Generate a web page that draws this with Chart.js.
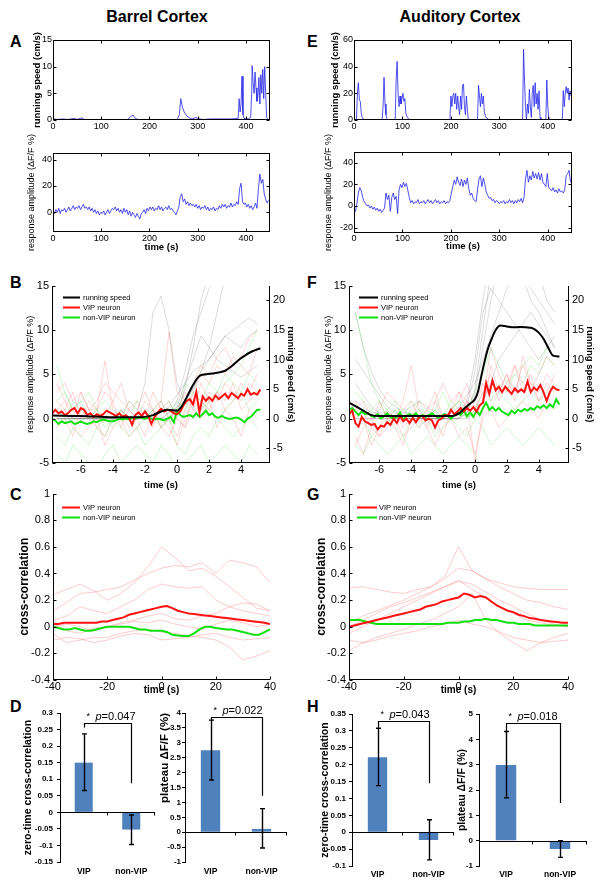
<!DOCTYPE html>
<html><head><meta charset="utf-8">
<script src="https://cdn.jsdelivr.net/npm/chart.js@4.4.1/dist/chart.umd.min.js"></script>
<style>
html,body{margin:0;padding:0;background:#fff;}
body{width:603px;height:889px;position:relative;overflow:hidden;font-family:"Liberation Sans",Arial,sans-serif;}
canvas{position:absolute;}
.lbl{position:absolute;font-weight:bold;font-size:16px;line-height:16px;color:#000;white-space:nowrap;}
</style></head><body>
<div class="lbl" style="left:57px;top:9px;width:200px;text-align:center">Barrel Cortex</div>
<div class="lbl" style="left:360px;top:9px;width:200px;text-align:center">Auditory Cortex</div>
<div class="lbl" style="left:10px;top:34px">A</div>
<div class="lbl" style="left:307px;top:34px">E</div>
<div class="lbl" style="left:10px;top:275px">B</div>
<div class="lbl" style="left:307px;top:275px">F</div>
<div class="lbl" style="left:10px;top:487px">C</div>
<div class="lbl" style="left:307px;top:487px">G</div>
<div class="lbl" style="left:10px;top:699px">D</div>
<div class="lbl" style="left:307px;top:699px">H</div>
<script>
// ================= DATA =================
// Panel A / E : running speed (cm/s) vs time (s)
const aBarrelSpeedT = [0,10,20,30,45,50,60,65,80,100,120,140,155,162,166,170,175,200,240,258,262,265,268,272,278,285,290,295,300,310,330,350,370,384,386,388,390,392,394,396,405,410,412,413,415,417,419,421,423,425,427,429,431,433,435,437,439,441,443,446,450];
const aBarrelSpeedV = [0.2,0.1,0.2,0.1,0.3,0.1,0.4,0.1,0.1,0.1,0.1,0.1,0.1,0.7,0.9,0.4,0.1,0.1,0.1,0.1,1,4,2.5,1.5,0.7,0.3,0.2,0.5,0.3,0.1,0.2,0.2,0.2,0.3,4.0,1.5,3,8.2,1,0.3,0.2,0.5,5,10.2,7,5,9,6,3.5,4.5,8,3,8.5,5,9.5,4,10,5,0.5,0.1,0.1];
const aAudSpeedT = [0,5,7,9,11,13,15,17,20,25,58,60,62,64,66,68,70,85,87,89,91,93,95,97,99,101,103,105,107,110,115,198,200,202,204,206,208,210,212,214,216,218,220,222,224,226,228,230,232,234,236,255,257,259,261,263,265,267,269,272,280,348,350,352,354,356,358,360,362,364,366,368,370,372,374,376,378,380,382,384,386,396,398,400,402,405,430,432,434,436,438,440,442,444,446,448];
const aAudSpeedV = [0,0,20,28,15,14,5,2,0.5,0,0,10,32,12,4,1,0,0,30,44,20,10,18,12,16,20,14,16,5,2,0,0,18,10,18,20,12,20,8,18,10,4,18,8,26,27,10,4,18,8,0,0,26,18,10,20,12,18,6,2,0,0,53,30,10,0,12,5,23,10,2,20,26,10,28,12,20,8,22,2,0,0,30,10,2,0,0,22,10,20,25,20,24,15,22,18];
// response amplitude (dF/F %), sampled every aDffStep s from t=0
const aDffStep = 3;
const aBarrelDff = [1,-1,2,0,3,-1,2,1,3,0,2,4,1,3,5,2,4,3,5,2,4,6,3,4,2,4,1,3,0,2,-1,1,-2,0,-1,1,-2,0,2,-1,1,3,2,4,1,3,0,2,-1,3,0,2,-2,1,-3,0,-2,-4,-1,-3,-5,-1,0,2,-1,3,1,4,2,4,1,3,2,5,2,4,1,3,4,2,5,2,3,1,0,-2,1,4,12,14,8,10,6,8,5,7,5,6,4,6,3,5,2,4,3,5,2,4,1,3,2,4,1,3,2,5,3,6,4,6,3,5,4,7,4,6,5,8,6,18,22,8,6,7,4,6,3,5,2,4,7,3,18,29,22,25,14,10,7,9];
const aAudDff = [-2,-5,2,12,17,14,8,4,2,0,1,-2,0,-3,-1,-4,-2,-5,-3,-6,-4,-2,12,6,10,-5,8,12,6,9,-7,15,20,17,22,18,21,15,8,3,5,2,4,3,6,2,4,3,5,2,4,6,3,5,2,4,6,3,5,2,4,3,5,2,4,3,5,12,18,24,20,27,22,19,25,18,24,20,26,16,10,12,7,5,4,15,25,28,18,26,20,13,10,7,8,5,6,3,5,4,2,4,3,5,2,4,3,6,3,5,2,5,3,6,4,7,3,8,25,33,22,28,24,32,26,30,25,31,24,30,22,20,18,30,17,16,14,17,13,15,12,16,13,14,12,15,28,30,33,22];
const aTimeTicks = [0,100,200,300,400];
const aBarrelSpeedTicks = [0,5,10,15];
const aBarrelDffTicks = [0,20,40];
const aAudSpeedTicks = [0,20,40,60];
const aAudDffTicks = [-20,0,20,40];

// Panel B / F : event-triggered averages
const bTimeTicks = [-6,-4,-2,0,2,4];
const bDffTicks = [-5,0,5,10,15];
const bSpeedTicks = [-5,0,5,10,15,20];
const bLegendLabels = ['running speed','VIP neuron','non-VIP neuron'];
// mean running speed (cm/s, right axis)
const bBarrelSpeedT = [-7.8,-6,-4,-2.5,-2,-1.5,-1,-0.6,0,0.3,0.6,1.0,1.4,1.8,2.2,2.6,3.0,3.4,3.9,4.3,4.7,5.2];
const bBarrelSpeedV = [0.53,0.45,0.23,0.23,0.3,0.6,1.2,1.5,1.35,2.1,3.6,5.7,7.2,7.5,7.65,7.8,8.1,8.85,10.05,10.8,11.4,11.9];
const bAudSpeedT = [-7.9,-7.5,-7,-6.5,-6,-5,-4,-3,-2,-1.4,-1,-0.7,-0.3,0,0.2,0.4,0.6,0.8,1.05,1.3,1.6,2.0,2.4,2.8,3.2,3.6,4.0,4.3,4.6,4.9,5.3];
const bAudSpeedV = [2.7,2.1,1.35,0.6,0.45,0.45,0.45,0.45,0.45,0.45,0.9,1.65,2.55,3.3,4.65,7.2,9.6,11.7,13.5,15.0,15.75,15.6,15.45,15.5,15.45,15.3,14.55,13.5,12.0,10.65,10.5];
// mean dF/F, sampled every 0.2 s
const bBarrelMeanT0 = -7.8, bAudMeanT0 = -7.9, bMeanStep = 0.2;
const bBarrelVip = [0.5,1.0,0.6,0.8,0.4,0.6,1.0,1.2,0.6,1.2,1.0,0.4,0.6,0.2,0.5,0.3,0.5,0.9,0.7,0.5,0.3,0.6,0.2,0.4,0.1,-0.7,0.4,0.7,0.3,0.8,0.3,-0.6,0.2,0.7,1.1,0.8,1.0,0.9,0.6,0.5,0.8,1.5,2.0,2.2,1.6,3.0,0.7,2.5,2.0,2.4,2.0,2.6,2.2,2.5,2.8,2.3,2.9,2.6,2.3,2.8,2.6,3.3,2.7,2.9,2.7,3.3];
const bBarrelNon = [0.0,-0.2,-0.6,-0.3,-0.5,-0.4,-0.3,-0.6,-0.5,-0.3,-0.5,-0.6,-0.5,-0.3,-0.4,-0.2,-0.1,-0.2,-0.3,-0.3,-0.2,0.0,-0.1,0.0,-0.1,0.1,0.0,0.2,0.1,0.0,0.1,0.0,-0.1,0.0,-0.1,-0.2,0.0,0.2,-0.4,0.9,0.4,0.2,0.3,0.4,0.2,0.6,0.2,0.5,0.9,0.4,0.6,0.2,0.1,0.3,0.1,0.0,0.0,0.1,0.1,-0.1,-0.4,0.0,0.2,0.6,1.0,1.0];
const bAudVip = [0.5,0.9,-0.5,-0.9,0.2,-0.3,-0.5,-0.7,-0.6,-1.2,-0.8,-0.9,-0.4,-0.7,0.0,-0.5,0.3,-0.3,0.0,-0.5,0.1,-0.4,0.2,0.3,-0.2,0.0,-0.2,-1.0,-0.2,0.0,0.4,0.3,1.0,0.5,0.8,1.2,0.8,1.2,0.9,1.3,0.8,1.5,1.8,4.0,2.8,4.3,3.2,3.6,3.0,3.6,3.2,2.8,3.4,3.0,3.3,3.0,4.2,3.0,3.5,3.2,3.8,3.0,2.0,3.0,3.6,3.3,3.2];
const bAudNon = [1.0,1.2,0.8,0.4,0.8,0.5,0.6,0.3,0.2,0.5,0.0,0.3,0.6,0.2,0.0,0.2,0.7,-0.2,0.3,0.5,0.3,0.6,0.1,0.4,0.2,0.4,0.6,0.3,0.1,0.3,0.5,0.3,0.0,0.4,0.7,0.4,0.9,0.3,0.7,0.2,0.9,0.4,1.2,1.8,1.0,1.3,0.9,1.2,0.8,0.6,0.4,0.9,0.6,1.0,0.8,1.1,0.9,1.2,1.0,1.4,1.2,1.5,1.2,1.6,1.3,2.2,1.6];
// individual traces, sampled at bTraceT
const bTraceT = [-7.5,-7,-6.5,-6,-5.5,-5,-4.5,-4,-3.5,-3,-2.5,-2,-1.5,-1,-0.5,0,0.5,1,1.5,2,2.5,3,3.5,4,4.5,5];
const bBarrelGray = [
 [0,0,0,0,0,0,0,0,0,0,1,6,18,20.7,15,6,3,5,8,10,12,14,13,12,14,15],
 [0,0,0,0,0,0,0,0,0,0,0,0,0,0,0,1,5,12,20,25,28,30,30,30,30,30],
 [0,0,0,0,0,0,0,0,0,0,0,0,0,0,1,3,8,14,18,22,25,26,28,30,32,33],
 [1,1,0,0,0,0,0,0,0,0,0,0,0,1,2,4,6,8,9,10,12,14,15,16,17,16],
 [0,0,0,0,0,0,0,0,0,0,0,0,0,0,0,2,6,10,14,12,10,9,8,7,8,9],
 [0,0,0,0,0,0,0,0,0,0,0,0,0,0,1,2,3,5,8,12,18,24,28,30,30,30]];
const bBarrelRed = [
 [1,2,0,3,1,1,6.5,1,0,2,1,3,1,2,9.8,3,2,4,6,5,7,8,6,7,9,10],
 [4,2,1,0,2,1,3,2,4,1,2,0,3,1,2,0,-1,3,5,4,6,5,7,6,5,8],
 [-1,0,-2,1,0,-1,-2,0,1,-1,0,-2,1,0,-1,-3,0,2,1,3,2,4,3,2,4,3],
 [2,1,3,0,1,-1,0,2,-1,1,0,1,-1,2,0,1,3,1,4,2,3,1,2,4,3,5],
 [0,1,-1,-2,-1,0,-3,-1,0,-2,-1,0,1,-1,-2,0,-1,1,0,2,-1,1,0,-2,1,0],
 [3,4,2,3,1,2,4,3,2,1,0,2,1,-1,0,-2,1,0,2,1,3,2,4,1,2,3]];
const bBarrelGreen = [
 [6,3,1,2,0,1,0,-1,1,0,-1,0,1,-1,0,2,1,3,2,4,3,5,4,3,5,4],
 [-2,-3,-1,-2,-3,-1,-2,0,-1,-2,-1,-3,-2,-1,0,-3,-4,-2,-1,-2,0,-1,-2,-1,0,-1],
 [1,0,2,1,0,1,-1,0,1,0,2,1,0,1,2,0,4,3,2,1,0,1,2,3,1,2],
 [-4,-5,-3,-4,-5,-6,-4,-3,-5,-4,-3,-4,-5,-3,-4,-6,-5,-4,-3,-5,-4,-3,-4,-5,-3,-4],
 [2,3,1,2,3,1,2,1,0,2,1,0,1,2,0,1,2,0,1,2,3,4,5,6,8,10]];
const bAudGray = [
 [18,12,8,5,3,2,1,1,0,0,0,0,0,0,1,5,15,25,30,28,26,24,22,20,18,16],
 [6,4,2,1,1,0,0,0,0,0,0,0,0,1,3,10,20,28,32,30,28,30,32,30,28,26],
 [0,0,0,0,0,0,0,0,0,0,0,0,0,0,2,8,18,22,20,18,16,14,12,10,12,14],
 [10,8,6,4,2,1,0,0,0,0,0,0,1,2,4,6,10,14,18,22,25,24,20,18,15,12],
 [0,0,0,0,0,0,0,0,0,0,0,0,0,0,0,1,3,6,10,12,14,16,18,16,14,12],
 [3,2,1,1,0,0,1,2,3,2,1,0,0,0,1,4,12,20,26,30,32,34,30,25,20,18]];
const bAudRed = [
 [2,0,-3,-1,1,0,2,6,1,-1,2,0,1,3,2,-5,1,6,3,5,2,7,4,3,5,4],
 [0,1,-1,2,0,1,-1,0,2,1,3,0,1,2,4,1,3,5,2,4,6,3,5,2,4,3],
 [-2,-4,-1,-2,0,-1,-3,0,-1,1,0,-2,1,0,2,1,4,2,3,5,3,6,4,2,3,5],
 [1,2,0,1,3,2,1,2,0,1,2,4,2,3,1,0,2,8,5,3,6,4,3,5,7,6],
 [-3,-1,0,-2,-1,0,-2,-1,0,-1,-3,-1,0,-2,-1,-4,0,1,-1,0,1,2,1,0,2,1]];
const bAudGreen = [
 [3,2,1,0,1,2,0,1,2,0,1,3,1,2,0,1,3,2,4,3,5,4,6,5,7,6],
 [-1,0,-2,-1,0,-1,-2,0,-1,0,-2,-1,0,-1,-2,0,-1,-3,-2,-1,-2,-3,-2,-1,-2,-3],
 [1,0,1,2,0,1,0,2,1,0,1,0,2,1,0,1,2,1,3,2,1,2,3,2,3,4],
 [-3,-4,-2,-3,-4,-3,-2,-4,-3,-2,-3,-4,-3,-2,-3,-4,-6,-5,-6,-5,-6,-5,-6,-5,-6,-5],
 [12,8,4,2,1,0,1,0,1,0,1,0,1,2,1,3,5,8,6,4,5,6,7,6,8,7]];

// Panel C / G : cross-correlation
const cLegendLabels = ['VIP neuron','non-VIP neuron'];
const cLagTicks = [-40,-20,0,20,40];
const cCorrTicks = [-0.4,-0.2,0,0.2,0.4,0.6,0.8,1];
const cMeanT0 = -40, cMeanStep = 2;
const cBarrelVip = [0.02,0.02,0.03,0.03,0.03,0.03,0.03,0.03,0.03,0.04,0.04,0.05,0.06,0.07,0.09,0.10,0.11,0.12,0.13,0.14,0.15,0.155,0.14,0.12,0.11,0.10,0.095,0.09,0.085,0.08,0.075,0.07,0.065,0.06,0.055,0.05,0.045,0.04,0.035,0.03,0.02];
const cBarrelNon = [0.0,-0.01,-0.02,-0.02,-0.01,-0.02,-0.03,-0.03,-0.02,-0.01,0.0,0.0,0.0,0.0,0.0,-0.01,-0.02,-0.02,-0.03,-0.03,-0.03,-0.04,-0.06,-0.065,-0.07,-0.07,-0.05,-0.02,0.0,0.0,-0.01,-0.015,-0.02,-0.02,-0.03,-0.04,-0.05,-0.06,-0.06,-0.04,-0.02];
const cAudVip = [0.0,0.01,0.02,0.03,0.04,0.05,0.06,0.07,0.08,0.09,0.10,0.11,0.12,0.13,0.15,0.16,0.17,0.19,0.20,0.21,0.22,0.25,0.24,0.22,0.23,0.22,0.19,0.16,0.14,0.12,0.11,0.09,0.08,0.065,0.06,0.05,0.045,0.04,0.035,0.03,0.03];
const cAudNon = [0.05,0.05,0.05,0.04,0.03,0.02,0.02,0.02,0.02,0.02,0.02,0.02,0.02,0.02,0.02,0.02,0.02,0.02,0.03,0.03,0.03,0.04,0.04,0.05,0.05,0.06,0.05,0.05,0.04,0.03,0.03,0.02,0.02,0.02,0.01,0.01,0.01,0.01,0.01,0.01,0.01];
const cTraceT = [-40,-35,-30,-25,-20,-15,-10,-5,0,5,10,15,20,25,30,35,40];
const cBarrelRed = [
 [0.24,0.28,0.32,0.27,0.20,0.25,0.33,0.45,0.60,0.52,0.42,0.44,0.38,0.30,0.22,0.14,0.12],
 [0.12,0.18,0.25,0.26,0.28,0.30,0.35,0.40,0.44,0.46,0.45,0.48,0.40,0.50,0.48,0.45,0.33],
 [0.05,0.08,0.15,0.12,0.10,0.15,0.20,0.28,0.32,0.30,0.29,0.30,0.20,0.15,0.12,0.10,0.08],
 [0.02,-0.03,-0.05,-0.01,0.00,0.03,0.05,0.08,0.10,0.06,0.05,0.08,0.10,0.15,0.18,0.17,0.12],
 [-0.05,-0.12,-0.10,-0.08,-0.08,-0.05,-0.03,-0.02,-0.04,-0.05,-0.07,-0.08,-0.10,-0.15,-0.25,-0.22,-0.18],
 [-0.10,-0.08,-0.09,-0.12,-0.10,-0.07,-0.05,-0.06,-0.10,-0.09,-0.08,-0.06,-0.05,-0.08,-0.10,-0.09,-0.08],
 [0.0,0.02,0.0,-0.03,0.0,0.02,0.04,0.03,0.05,0.02,0.0,-0.02,0.02,0.05,0.03,0.0,0.02]];
const cAudRed = [
 [0.29,0.30,0.28,0.26,0.25,0.28,0.30,0.38,0.60,0.42,0.36,0.33,0.30,0.29,0.28,0.28,0.28],
 [0.03,0.08,0.12,0.16,0.20,0.25,0.30,0.36,0.44,0.42,0.36,0.30,0.25,0.20,0.18,0.15,0.13],
 [-0.05,0.0,0.05,0.10,0.15,0.20,0.25,0.30,0.35,0.28,0.22,0.15,0.10,0.05,0.03,0.01,0.0],
 [-0.10,-0.12,-0.08,-0.05,-0.02,0.02,0.05,0.10,0.15,0.25,0.05,-0.05,-0.12,-0.18,-0.12,-0.08,-0.05],
 [-0.18,-0.12,-0.10,-0.07,-0.05,-0.03,0.0,0.02,0.05,0.02,0.0,-0.04,-0.08,-0.10,-0.12,-0.11,-0.10],
 [0.0,0.05,0.10,0.15,0.18,0.22,0.26,0.30,0.34,0.32,0.26,0.20,0.15,0.10,0.05,0.02,0.0]];

// Panel D / H : bar charts
const barCats = ['VIP','non-VIP'];
const dCorr = [0.15,-0.052], dCorrLo = [0.066,-0.097], dCorrHi = [0.237,-0.008];
const dPlat = [2.75,0.11], dPlatLo = [1.75,-0.53], dPlatHi = [3.76,0.79];
const hCorr = [0.222,-0.023], hCorrLo = [0.138,-0.082], hCorrHi = [0.308,0.037];
const hPlat = [2.99,-0.33], hPlatLo = [1.69,-0.66], hPlatHi = [4.31,0.0];
const dCorrTicks = [-0.15,-0.1,-0.05,0,0.05,0.1,0.15,0.2,0.25,0.3];
const dPlatTicks = [-1,-0.5,0,0.5,1,1.5,2,2.5,3,3.5,4];
const hCorrTicks = [-0.1,-0.05,0,0.05,0.1,0.15,0.2,0.25,0.3,0.35];
const hPlatTicks = [-1,0,1,2,3,4,5];
const pTexts = ['p=0.047','p=0.022','p=0.043','p=0.018'];
const sigTop = [0.271,3.875,0.328,4.65];
const sigLeftEnd = [0.256,3.76,0.309,4.31];
const sigRightEnd = [0.088,1.22,0.145,1.49];

// ================= RENDERING =================
const FONT = '"Liberation Sans", Arial, Helvetica, sans-serif';
Chart.defaults.font.family = FONT;
Chart.defaults.color = '#000';
const fmt = v => String(Math.round(v * 1000) / 1000);
const pts = (xs, ys) => ys.map((y, i) => ({x: xs[i], y}));
const gridPts = (t0, dt, ys) => ys.map((y, i) => ({x: +(t0 + i * dt).toFixed(3), y}));

const frame = {
  id: 'frame',
  afterDatasetsDraw(chart, args, o) {
    if (!o || !o.sides) return;
    const {ctx, chartArea: a} = chart;
    const s = o.sides, n = o.len || 3;
    const L = Math.round(a.left) + 0.5, R = Math.round(a.right) - 0.5, T = Math.round(a.top) + 0.5, B = Math.round(a.bottom) - 0.5;
    ctx.save(); ctx.strokeStyle = '#000'; ctx.lineWidth = 1; ctx.beginPath();
    if (s.includes('l')) { ctx.moveTo(L, T - 0.5); ctx.lineTo(L, B + 0.5); }
    if (s.includes('r')) { ctx.moveTo(R, T - 0.5); ctx.lineTo(R, B + 0.5); }
    if (s.includes('t')) { ctx.moveTo(L, T); ctx.lineTo(R, T); }
    if (s.includes('b')) { ctx.moveTo(L - 0.5, B); ctx.lineTo(R + 0.5, B); }
    const xs = chart.scales.x, ys = chart.scales.y, y2 = chart.scales.y2;
    xs.ticks.forEach(t => { const p = Math.round(xs.getPixelForValue(t.value)) + 0.5;
      if (s.includes('b')) { ctx.moveTo(p, B); ctx.lineTo(p, B - n); }
      if (s.includes('t')) { ctx.moveTo(p, T); ctx.lineTo(p, T + n); } });
    ys.ticks.forEach(t => { const p = Math.round(ys.getPixelForValue(t.value)) + 0.5;
      if (s.includes('l')) { ctx.moveTo(L, p); ctx.lineTo(L + n, p); }
      if (s.includes('r') && !y2) { ctx.moveTo(R, p); ctx.lineTo(R - n, p); } });
    if (y2) y2.ticks.forEach(t => { const p = Math.round(y2.getPixelForValue(t.value)) + 0.5;
      ctx.moveTo(R, p); ctx.lineTo(R - n, p); });
    ctx.stroke(); ctx.restore();
  }
};
const lgd = {
  id: 'lgd',
  afterDatasetsDraw(chart, args, o) {
    if (!o || !o.labels) return;
    const {ctx, chartArea: a} = chart;
    ctx.save(); ctx.font = o.fs + 'px ' + FONT; ctx.textBaseline = 'middle'; ctx.fillStyle = '#000';
    o.labels.forEach((lab, i) => {
      const y = Math.round(a.top + o.y0 + i * o.dy) + 0.5;
      ctx.strokeStyle = o.colors[i]; ctx.lineWidth = 2;
      ctx.beginPath(); ctx.moveTo(a.left + o.x1, y); ctx.lineTo(a.left + o.x2, y); ctx.stroke();
      ctx.fillText(lab, a.left + o.tx, y);
    });
    ctx.restore();
  }
};
const errb = {
  id: 'errb',
  afterDatasetsDraw(chart, args, o) {
    if (!o || !o.lo) return;
    const {ctx} = chart, ys = chart.scales.y, meta = chart.getDatasetMeta(0);
    ctx.save(); ctx.strokeStyle = '#000'; ctx.lineWidth = 1.4; ctx.beginPath();
    meta.data.forEach((bar, i) => {
      const x = Math.round(bar.x) + 0.5, yl = ys.getPixelForValue(o.lo[i]), yh = ys.getPixelForValue(o.hi[i]);
      ctx.moveTo(x, yl); ctx.lineTo(x, yh);
      ctx.moveTo(x - 2.5, yl); ctx.lineTo(x + 2.5, yl);
      ctx.moveTo(x - 2.5, yh); ctx.lineTo(x + 2.5, yh);
    });
    ctx.stroke(); ctx.restore();
  }
};
const zeroAx = {
  id: 'zeroAx',
  afterDatasetsDraw(chart, args, o) {
    if (!o || !o.on) return;
    const {ctx, chartArea: a} = chart, ys = chart.scales.y;
    const y = Math.round(ys.getPixelForValue(0)) + 0.5, w = (a.right - a.left) / barCats.length;
    ctx.save(); ctx.strokeStyle = '#000'; ctx.lineWidth = 1; ctx.beginPath();
    ctx.moveTo(a.left, y); ctx.lineTo(a.right, y);
    for (let k = 1; k <= barCats.length; k++) { const x = Math.round(a.left + k * w) - 0.5; ctx.moveTo(x, y); ctx.lineTo(x, y + 3); }
    ctx.stroke(); ctx.restore();
  }
};
const sig = {
  id: 'sig',
  afterDraw(chart, args, o) {
    if (!o || !o.text) return;
    const {ctx} = chart, ys = chart.scales.y, meta = chart.getDatasetMeta(0);
    const xa = Math.round(meta.data[0].x) + 0.5, xb = Math.round(meta.data[1].x) + 0.5;
    const yt = Math.round(ys.getPixelForValue(o.top)) + 0.5;
    ctx.save(); ctx.strokeStyle = '#000'; ctx.lineWidth = 1.2; ctx.beginPath();
    ctx.moveTo(xa, ys.getPixelForValue(o.left)); ctx.lineTo(xa, yt); ctx.lineTo(xb, yt); ctx.lineTo(xb, ys.getPixelForValue(o.right));
    ctx.stroke();
    ctx.fillStyle = '#000'; ctx.textBaseline = 'middle';
    ctx.font = '9px ' + FONT; ctx.fillText('*', xa + 2, yt - 7);
    ctx.font = 'italic 11px ' + FONT; ctx.fillText(o.text[0], xa + 11, yt - 7);
    const w = ctx.measureText(o.text[0]).width;
    ctx.font = '11px ' + FONT; ctx.fillText(o.text.slice(1), xa + 11 + w, yt - 7);
    ctx.restore();
  }
};

function place(r, m) {
  const c = document.createElement('canvas');
  const w = r[2] - r[0] + m.l + m.r, h = r[3] - r[1] + m.t + m.b;
  c.width = w; c.height = h;
  c.style.left = (r[0] - m.l) + 'px'; c.style.top = (r[1] - m.t) + 'px';
  c.style.width = w + 'px'; c.style.height = h + 'px';
  document.body.appendChild(c);
  return {c, w, h, left: r[0] - m.l, top: r[1] - m.t};
}
function vTitle(text, size, weight, pad, align) {
  return {display: true, text, align: align || 'center', color: '#000', font: {size, weight}, padding: {top: pad, bottom: 0}};
}
function hTitle(text, size, weight, pad) {
  return {display: true, text, color: '#000', font: {size, weight}, padding: {top: 0, bottom: pad}};
}
function lineChart(r, m, cfg) {
  const p = place(r, m);
  const canvasLeft = p.left, canvasRight = p.left + p.w, canvasBottom = p.top + p.h;
  const ypad = cfg.ypad === undefined ? 3 : cfg.ypad;
  const scales = {
    x: {type: 'linear', min: cfg.xr[0], max: cfg.xr[1],
      grid: {display: false, drawTicks: false}, border: {display: false},
      afterBuildTicks: s => { s.ticks = cfg.xt.map(v => ({value: v})); },
      ticks: {autoSkip: false, maxRotation: 0, minRotation: 0, padding: cfg.xpad, font: {size: cfg.fs}, callback: v => fmt(v)},
      title: cfg.xtitle ? hTitle(cfg.xtitle[0], cfg.xtitle[1], 'bold', canvasBottom - cfg.xtitle[2] - cfg.xtitle[1] * 0.6) : {display: false},
      afterFit: s => { s.height = m.b; }},
    y: {type: 'linear', position: 'left', min: cfg.yr[0], max: cfg.yr[1],
      grid: {display: false, drawTicks: false}, border: {display: false},
      afterBuildTicks: s => { s.ticks = cfg.yt.map(v => ({value: v})); },
      ticks: {autoSkip: false, padding: ypad, font: {size: cfg.fs}, callback: v => fmt(v)},
      title: vTitle(cfg.ytitle[0], cfg.ytitle[1], cfg.ytitle[2], cfg.ytitle[3] - canvasLeft - cfg.ytitle[1] * 0.6),
      afterFit: s => { s.width = m.l; }}
  };
  if (cfg.y2) {
    scales.y2 = {type: 'linear', position: 'right', min: cfg.y2.r[0], max: cfg.y2.r[1],
      grid: {display: false, drawTicks: false}, border: {display: false},
      afterBuildTicks: s => { s.ticks = cfg.y2.t.map(v => ({value: v})); },
      ticks: {autoSkip: false, padding: 3, font: {size: cfg.fs}, callback: v => fmt(v)},
      title: vTitle(cfg.y2.title[0], cfg.y2.title[1], cfg.y2.title[2], canvasRight - cfg.y2.title[3] - cfg.y2.title[1] * 0.6),
      afterFit: s => { s.width = m.r; }};
  }
  return new Chart(p.c, {
    type: 'line',
    data: {datasets: cfg.datasets},
    options: {
      responsive: false, animation: false, devicePixelRatio: 1, events: [],
      layout: {autoPadding: false, padding: {left: 0, top: m.t, right: cfg.y2 ? 0 : m.r, bottom: 0}},
      elements: {point: {radius: 0}, line: {tension: 0, borderWidth: 1}},
      plugins: {legend: {display: false}, tooltip: {enabled: false}, frame: {sides: cfg.sides, len: 3}, lgd: cfg.lgd || false},
      scales
    },
    plugins: [frame, lgd]
  });
}
function barChart(r, m, cfg) {
  const p = place(r, m);
  return new Chart(p.c, {
    type: 'bar',
    data: {labels: barCats, datasets: [{data: cfg.vals, backgroundColor: '#4f81bd', borderWidth: 0, barPercentage: 0.38, categoryPercentage: 1}]},
    options: {
      responsive: false, animation: false, devicePixelRatio: 1, events: [],
      layout: {autoPadding: false, padding: {left: 0, top: m.t, right: m.r, bottom: 0}},
      plugins: {legend: {display: false}, tooltip: {enabled: false},
        errb: {lo: cfg.lo, hi: cfg.hi}, zeroAx: {on: true},
        sig: {top: cfg.sig[0], left: cfg.sig[1], right: cfg.sig[2], text: cfg.ptext}},
      scales: {
        x: {grid: {display: false, drawTicks: false}, border: {display: false},
          ticks: {autoSkip: false, maxRotation: 0, padding: cfg.xpad, font: {size: 8.5, weight: 'bold'}},
          afterFit: s => { s.height = m.b; }},
        y: {min: cfg.yt[0], max: cfg.yt[cfg.yt.length - 1],
          afterBuildTicks: s => { s.ticks = cfg.yt.map(v => ({value: v})); },
          grid: {display: true, drawOnChartArea: false, drawTicks: true, tickLength: 3, color: '#000', lineWidth: 1},
          border: {display: true, color: '#000', width: 1},
          ticks: {autoSkip: false, padding: cfg.ypad, font: {size: 8, weight: 'bold'}, callback: v => fmt(v)},
          title: vTitle(cfg.ytitle, cfg.tfs, 'bold', cfg.tcx - p.left - cfg.tfs * 0.6, cfg.talign),
          afterFit: s => { s.width = m.l; }}
      }
    },
    plugins: [errb, zeroAx, sig]
  });
}

const BLUE = 'rgb(35,35,235)';
const fadeGray = 'rgba(110,110,110,0.35)', fadeRed = 'rgba(255,90,90,0.35)', fadeGreen = 'rgba(70,215,70,0.35)';
const RED = '#ff1010', GREEN = '#10e010';
const blue = d => ({data: d, borderColor: BLUE, borderWidth: 0.8});

// ---- A ----
lineChart([53,40,270,120], {l:30,r:8,t:10,b:16}, {xr:[0,450], xt:aTimeTicks, yr:[0,15], yt:aBarrelSpeedTicks, fs:9, xpad:1, ypad:1,
  ytitle:['running speed (cm/s)',9.5,'bold',37], sides:'lrtb', datasets:[blue(pts(aBarrelSpeedT, aBarrelSpeedV))]});
lineChart([53,153,270,232], {l:30,r:8,t:24,b:28}, {xr:[0,450], xt:aTimeTicks, yr:[-15,45], yt:aBarrelDffTicks, fs:9, xpad:1, ypad:1,
  ytitle:['response amplitude (\u0394F/F %)',9,'normal',31.5], xtitle:['time (s)',9.5,247], sides:'lrtb',
  datasets:[blue(gridPts(0, aDffStep, aBarrelDff))]});
// ---- E ----
lineChart([354,40,572,120], {l:30,r:8,t:10,b:16}, {xr:[0,450], xt:aTimeTicks, yr:[0,60], yt:aAudSpeedTicks, fs:9, xpad:1, ypad:1,
  ytitle:['running speed (cm/s)',9.5,'bold',335], sides:'lrtb', datasets:[blue(pts(aAudSpeedT, aAudSpeedV))]});
lineChart([354,152,572,233], {l:30,r:8,t:24,b:28}, {xr:[0,450], xt:aTimeTicks, yr:[-25,50], yt:aAudDffTicks, fs:9, xpad:0, ypad:1,
  ytitle:['response amplitude (\u0394F/F %)',9,'normal',329], xtitle:['time (s)',9.5,246.5], sides:'lrtb',
  datasets:[blue(gridPts(0, aDffStep, aAudDff))]});

// ---- B / F ----
function bDatasets(speedT, speedV, meanT0, vip, non, gray, red, green) {
  const ds = [
    {data: pts(speedT, speedV), yAxisID: 'y2', borderColor: '#000', borderWidth: 2, cubicInterpolationMode: 'monotone'},
    {data: gridPts(meanT0, bMeanStep, vip), yAxisID: 'y', borderColor: RED, borderWidth: 2},
    {data: gridPts(meanT0, bMeanStep, non), yAxisID: 'y', borderColor: GREEN, borderWidth: 2}
  ];
  green.forEach(g => ds.push({data: pts(bTraceT, g), yAxisID: 'y', borderColor: fadeGreen, borderWidth: 0.7}));
  red.forEach(g => ds.push({data: pts(bTraceT, g), yAxisID: 'y', borderColor: fadeRed, borderWidth: 0.7}));
  gray.forEach(g => ds.push({data: pts(bTraceT, g), yAxisID: 'y2', borderColor: fadeGray, borderWidth: 0.7}));
  return ds;
}
const bLgd = x => ({labels: bLegendLabels, colors: ['#000', RED, GREEN], fs: 7.5, x1: x[0], x2: x[1], tx: x[2], y0: 11.7, dy: 10});
lineChart([52,284,270,463], {l:32,r:30,t:8,b:30}, {xr:[-7.8,5.8], xt:bTimeTicks, yr:[-5,15], yt:bDffTicks, fs:11, xpad:0,
  ytitle:['response amplitude (\u0394F/F %)',9,'normal',31], xtitle:['time (s)',9.5,485.7], sides:'lrb',
  y2:{r:[-7.5,22.5], t:bSpeedTicks, title:['running speed (cm/s)',9.5,'bold',291]},
  lgd: bLgd([11,28,31]),
  datasets: bDatasets(bBarrelSpeedT, bBarrelSpeedV, bBarrelMeanT0, bBarrelVip, bBarrelNon, bBarrelGray, bBarrelRed, bBarrelGreen)});
lineChart([349,284,569,463], {l:31,r:34,t:8,b:30}, {xr:[-7.9,5.9], xt:bTimeTicks, yr:[-5,15], yt:bDffTicks, fs:11, xpad:0,
  ytitle:['response amplitude (\u0394F/F %)',9,'normal',329], xtitle:['time (s)',9.5,485], sides:'lrb',
  y2:{r:[-7.5,22.5], t:bSpeedTicks, title:['running speed (cm/s)',9.5,'bold',590]},
  lgd: bLgd([10,29,32]),
  datasets: bDatasets(bAudSpeedT, bAudSpeedV, bAudMeanT0, bAudVip, bAudNon, bAudGray, bAudRed, bAudGreen)});

// ---- C / G ----
function cDatasets(vip, non, red) {
  const ds = [
    {data: gridPts(cMeanT0, cMeanStep, vip), borderColor: RED, borderWidth: 2},
    {data: gridPts(cMeanT0, cMeanStep, non), borderColor: GREEN, borderWidth: 2}
  ];
  red.forEach(r => ds.push({data: pts(cTraceT, r), borderColor: 'rgba(255,110,110,0.45)', borderWidth: 0.8}));
  return ds;
}
const cLgd = x => ({labels: cLegendLabels, colors: [RED, GREEN], fs: 7.5, x1: x[0], x2: x[1], tx: x[2], y0: 13, dy: 10.5});
lineChart([53,492,270,680], {l:35,r:10,t:8,b:18}, {xr:[-40,40], xt:cLagTicks, yr:[-0.4,1], yt:cCorrTicks, fs:11, xpad:0, ypad:3,
  ytitle:['cross-correlation',12,'bold',25], xtitle:['time (s)',10,690.7], sides:'lb', lgd: cLgd([9,27,30]),
  datasets: cDatasets(cBarrelVip, cBarrelNon, cBarrelRed)});
lineChart([349,492,568,680], {l:34,r:10,t:8,b:18}, {xr:[-40,40], xt:cLagTicks, yr:[-0.4,1], yt:cCorrTicks, fs:11, xpad:0, ypad:3,
  ytitle:['cross-correlation',12,'bold',322], xtitle:['time (s)',10,690.7], sides:'lb', lgd: cLgd([8,28,30]),
  datasets: cDatasets(cAudVip, cAudNon, cAudRed)});

// ---- D / H ----
barChart([60,713,155,862], {l:42,r:8,t:14,b:20}, {vals:dCorr, lo:dCorrLo, hi:dCorrHi, yt:dCorrTicks, ypad:4, xpad:5,
  ytitle:'zero-time cross-correlation', tfs:10.5, tcx:28, sig:[sigTop[0], sigLeftEnd[0], sigRightEnd[0]], ptext:pTexts[0]});
barChart([185,713,287,862], {l:30,r:8,t:14,b:20}, {vals:dPlat, lo:dPlatLo, hi:dPlatHi, yt:dPlatTicks, ypad:1, xpad:5,
  ytitle:'plateau \u0394F/F (%)', tfs:11.5, tcx:165, talign:'end', sig:[sigTop[1], sigLeftEnd[1], sigRightEnd[1]], ptext:pTexts[1]});
barChart([352,714,454,866], {l:37,r:8,t:14,b:20}, {vals:hCorr, lo:hCorrLo, hi:hCorrHi, yt:hCorrTicks, ypad:3, xpad:4,
  ytitle:'zero-time cross-correlation', tfs:10.5, tcx:325, sig:[sigTop[2], sigLeftEnd[2], sigRightEnd[2]], ptext:pTexts[2]});
barChart([479,714,587,866], {l:27,r:14,t:14,b:20}, {vals:hPlat, lo:hPlatLo, hi:hPlatHi, yt:hPlatTicks, ypad:3, xpad:4,
  ytitle:'plateau \u0394F/F (%)', tfs:10.5, tcx:462, sig:[sigTop[3], sigLeftEnd[3], sigRightEnd[3]], ptext:pTexts[3]});
</script>
</body></html>
